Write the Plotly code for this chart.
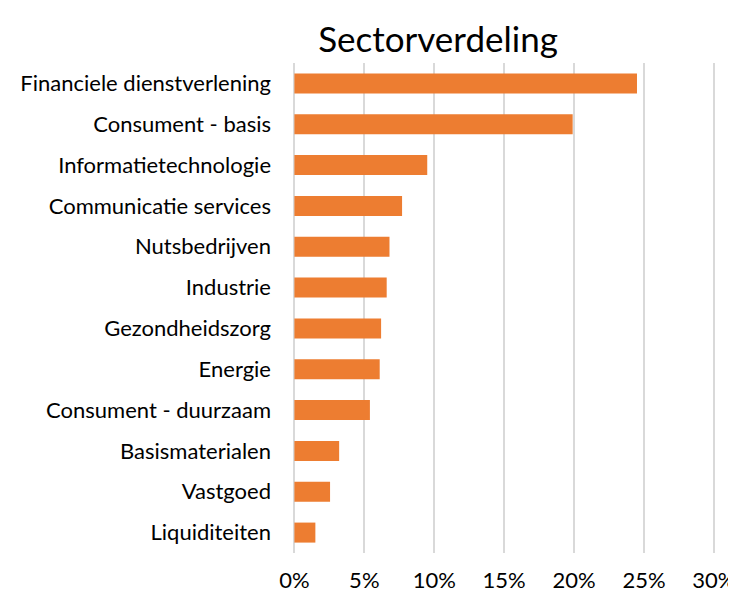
import plotly.graph_objects as go

categories = ["Financiele dienstverlening", "Consument - basis", "Informatietechnologie",
              "Communicatie services", "Nutsbedrijven", "Industrie", "Gezondheidszorg",
              "Energie", "Consument - duurzaam", "Basismaterialen", "Vastgoed", "Liquiditeiten"]
values = [24.5, 19.9, 9.5, 7.7, 6.8, 6.6, 6.2, 6.1, 5.4, 3.2, 2.55, 1.5]
x_ticks = [0, 5, 10, 15, 20, 25, 30]
x_tick_labels = ["0%", "5%", "10%", "15%", "20%", "25%", "30%"]
title = "Sectorverdeling"

fig = go.Figure(go.Bar(
    x=values, y=categories, orientation="h",
    marker=dict(color="#ED7D31", line=dict(width=0)),
    hoverinfo="x+y",
))

# page body has an 8px default margin, so the figure is sized/offset accordingly
fig.update_layout(
    width=728, height=585,
    margin=dict(l=285, r=20, t=55, b=40),
    paper_bgcolor="white", plot_bgcolor="white",
    font=dict(family="Lato, Open Sans, sans-serif", size=22, color="#000000"),
    title=dict(text=title, x=0.5907, xanchor="center", y=0.9453, yanchor="middle",
               font=dict(size=35, color="#000000")),
    bargap=0.51,
    showlegend=False,
)
fig.update_xaxes(
    range=[-0.1, 30.15], tickvals=x_ticks, ticktext=x_tick_labels,
    showgrid=True, gridcolor="#d9d9d9", gridwidth=2,
    zeroline=True, zerolinecolor="#d9d9d9", zerolinewidth=2,
    showline=False, ticks="", ticklabelstandoff=12,
    automargin=False,
)
fig.update_yaxes(
    categoryorder="array", categoryarray=categories[::-1],
    showgrid=False, zeroline=False, showline=False, ticks="", ticklabelstandoff=21,
    automargin=False,
)

fig.write_html("out.html")
